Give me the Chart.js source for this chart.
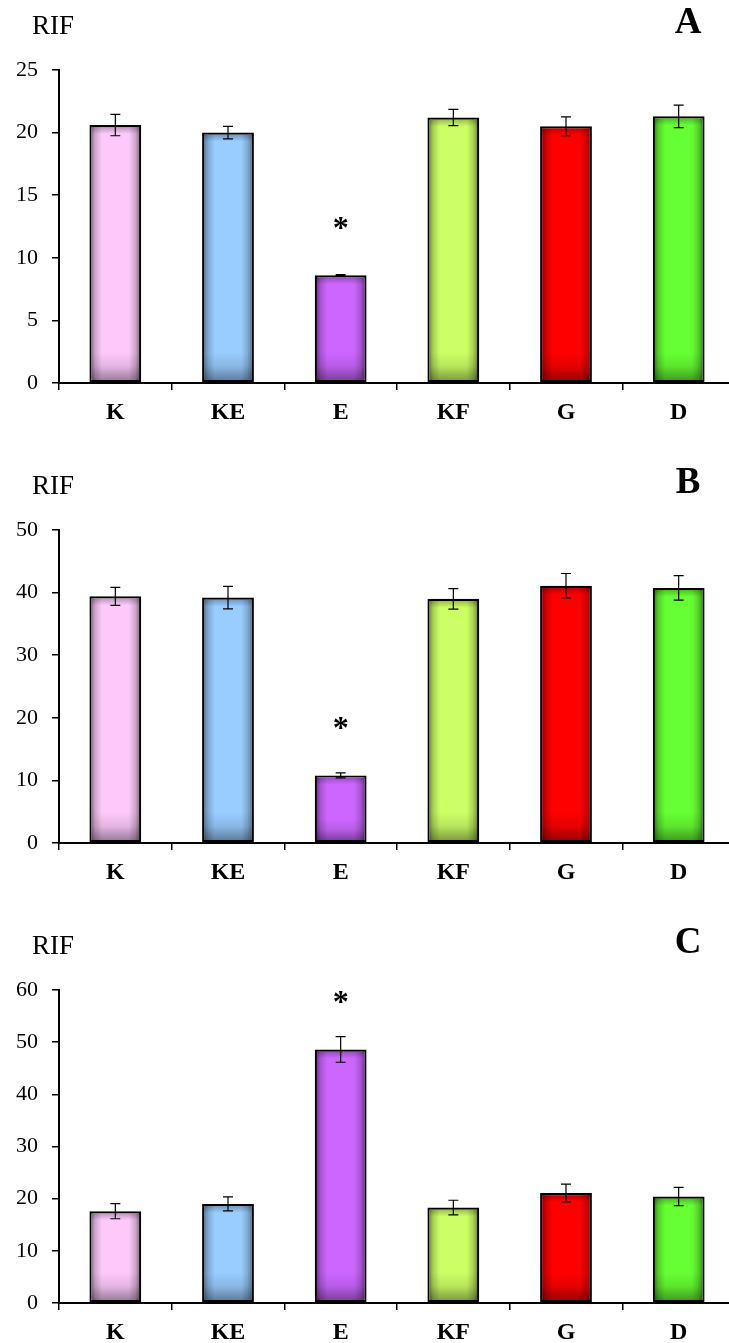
<!DOCTYPE html>
<html>
<head>
<meta charset="utf-8">
<script src="https://cdn.jsdelivr.net/npm/chart.js@4.4.1/dist/chart.umd.min.js"></script>
<style>
  html, body { margin: 0; padding: 0; background: #fff; }
  #page { position: relative; width: 729px; height: 1343px; overflow: hidden; }
  .panel { position: absolute; left: 0; width: 745px; }
</style>
</head>
<body>
<div id="page">
  <div class="panel" style="top:0"><canvas id="panelA" width="745" height="460"></canvas></div>
  <div class="panel" style="top:460px"><canvas id="panelB" width="745" height="460"></canvas></div>
  <div class="panel" style="top:920px"><canvas id="panelC" width="745" height="423"></canvas></div>
</div>
<script>
// groups
const categories = ["K", "KE", "E", "KF", "G", "D"];

// RIF means and error bars, one pair per panel
const rifA = [20.6, 20.0, 8.6, 21.2, 20.5, 21.3];
const errA = [0.85, 0.5, 0.05, 0.65, 0.75, 0.9];
const rifB = [39.4, 39.2, 10.8, 39.0, 41.1, 40.75];
const errB = [1.45, 1.8, 0.4, 1.65, 1.95, 1.95];
const rifC = [17.6, 19.0, 48.6, 18.3, 21.1, 20.4];
const errC = [1.45, 1.35, 2.45, 1.4, 1.7, 1.75];

// significance marks above the bars
const marks = ["", "", "*", "", "", ""];

// y axis ranges
const yMaxA = 25, yStepA = 5;
const yMaxB = 50, yStepB = 10;
const yMaxC = 60, yStepC = 10;

const barColors = ["#fdc9fb", "#99ccff", "#cc66ff", "#ccff66", "#ff0000", "#66ff33"];

const serif = "'Liberation Serif', 'Times New Roman', serif";

// inner darkening on every bar, like the old office "shadow" fill
const shadePlugin = {
  id: "shade",
  afterDatasetsDraw(chart) {
    const ctx = chart.ctx;
    chart.getDatasetMeta(0).data.forEach(bar => {
      const p = bar.getProps(["x", "y", "base", "width"], true);
      const l = p.x - p.width / 2 + 2, r = p.x + p.width / 2 - 2;
      const t = p.y + 2, b = p.base - 2;
      ctx.save();
      ctx.beginPath();
      ctx.rect(l, t, r - l, b - t);
      ctx.clip();
      let g = ctx.createLinearGradient(l, 0, r, 0);
      g.addColorStop(0, "rgba(0,0,0,0.42)");
      g.addColorStop(0.08, "rgba(0,0,0,0.18)");
      g.addColorStop(0.22, "rgba(0,0,0,0)");
      g.addColorStop(0.78, "rgba(0,0,0,0)");
      g.addColorStop(0.92, "rgba(0,0,0,0.18)");
      g.addColorStop(1, "rgba(0,0,0,0.42)");
      ctx.fillStyle = g;
      ctx.fillRect(l, t, r - l, b - t);
      const fade = Math.min(28, (b - t) / 3);
      g = ctx.createLinearGradient(0, b - fade, 0, b);
      g.addColorStop(0, "rgba(0,0,0,0)");
      g.addColorStop(0.5, "rgba(0,0,0,0.1)");
      g.addColorStop(1, "rgba(0,0,0,0.38)");
      ctx.fillStyle = g;
      ctx.fillRect(l, b - fade, r - l, fade);
      g = ctx.createLinearGradient(0, t, 0, t + 7);
      g.addColorStop(0, "rgba(0,0,0,0.25)");
      g.addColorStop(1, "rgba(0,0,0,0)");
      ctx.fillStyle = g;
      ctx.fillRect(l, t, r - l, 7);
      ctx.restore();
    });
  }
};

// error bars and significance stars
const errorPlugin = {
  id: "errors",
  afterDatasetsDraw(chart, args, opts) {
    const ctx = chart.ctx;
    const yScale = chart.scales.y;
    const vals = chart.data.datasets[0].data;
    ctx.save();
    ctx.strokeStyle = "#000";
    ctx.lineWidth = 1.2;
    chart.getDatasetMeta(0).data.forEach((bar, i) => {
      const x = bar.getProps(["x"], true).x;
      const top = yScale.getPixelForValue(vals[i] + opts.err[i]);
      const bot = yScale.getPixelForValue(vals[i] - opts.err[i]);
      ctx.beginPath();
      ctx.moveTo(x, top); ctx.lineTo(x, bot);
      ctx.moveTo(x - 5, top); ctx.lineTo(x + 5, top);
      ctx.moveTo(x - 5, bot); ctx.lineTo(x + 5, bot);
      ctx.stroke();
      if (marks[i]) {
        const barTop = yScale.getPixelForValue(vals[i]);
        ctx.fillStyle = "#000";
        ctx.font = "bold 32px " + serif;
        ctx.textAlign = "center";
        ctx.textBaseline = "alphabetic";
        ctx.fillText(marks[i], x, barTop - 52 + 15);
      }
    });
    ctx.restore();
  }
};

// "RIF" axis caption and panel letter
const titlePlugin = {
  id: "titles",
  afterDraw(chart, args, opts) {
    const ctx = chart.ctx;
    ctx.save();
    ctx.fillStyle = "#000";
    ctx.textBaseline = "alphabetic";
    ctx.textAlign = "left";
    ctx.font = "27px " + serif;
    ctx.fillText("RIF", 32, 34);
    ctx.textAlign = "center";
    ctx.font = "bold 37px " + serif;
    ctx.fillText(opts.letter, 688, 33);
    ctx.restore();
  }
};

function makePanel(id, values, errors, yMax, yStep, letter) {
  const canvas = document.getElementById(id);
  const H = canvas.height;
  return new Chart(canvas.getContext("2d"), {
    type: "bar",
    data: {
      labels: categories,
      datasets: [{
        data: values,
        backgroundColor: barColors,
        borderColor: "#000",
        borderWidth: 2.2,
        borderSkipped: false,
        categoryPercentage: 1,
        barPercentage: 0.46
      }]
    },
    options: {
      responsive: false,
      animation: false,
      devicePixelRatio: 1,
      layout: { padding: { top: 70, right: 10, left: 0, bottom: 0 } },
      plugins: {
        legend: { display: false },
        tooltip: { enabled: false },
        errors: { err: errors },
        titles: { letter: letter }
      },
      scales: {
        x: {
          grid: { drawOnChartArea: false, drawTicks: true, tickLength: 7, color: "#000", lineWidth: 1.5, offset: true },
          border: { display: true, color: "#000", width: 2 },
          ticks: { color: "#000", padding: 8, maxRotation: 0, font: { family: serif, size: 24, weight: "bold" } },
          afterFit(s) { s.height = H - 383; }
        },
        y: {
          min: 0,
          max: yMax,
          grid: { drawOnChartArea: false, drawTicks: true, tickLength: 7, color: "#000", lineWidth: 1.5 },
          border: { display: true, color: "#000", width: 2 },
          ticks: { stepSize: yStep, color: "#000", padding: 14, font: { family: serif, size: 22 } },
          afterFit(s) { s.width = 59; }
        }
      }
    },
    plugins: [shadePlugin, errorPlugin, titlePlugin]
  });
}

makePanel("panelA", rifA, errA, yMaxA, yStepA, "A");
makePanel("panelB", rifB, errB, yMaxB, yStepB, "B");
makePanel("panelC", rifC, errC, yMaxC, yStepC, "C");
</script>
</body>
</html>
